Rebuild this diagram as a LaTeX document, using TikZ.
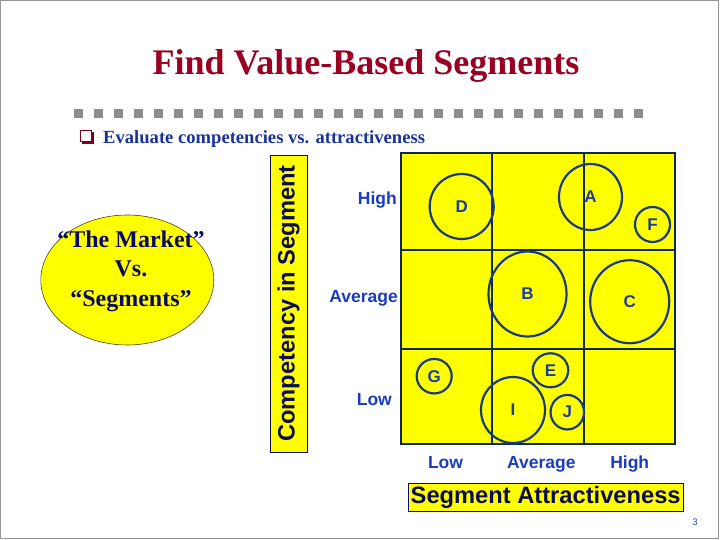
\documentclass[tikz,border=0pt]{standalone}
\usepackage{fontspec}
\setmainfont{Liberation Serif}
\setsansfont{Liberation Sans}
\usetikzlibrary{shapes.geometric}
\definecolor{titlered}{RGB}{153,0,34}
\definecolor{bulletred}{RGB}{128,0,32}
\definecolor{subblue}{RGB}{26,51,153}
\definecolor{sqgrey}{RGB}{140,140,140}
\definecolor{framegrey}{RGB}{150,150,150}
\definecolor{hiyellow}{RGB}{255,255,0}
\definecolor{gridnavy}{RGB}{14,40,84}
\definecolor{circnavy}{RGB}{28,58,128}
\definecolor{letterblue}{RGB}{30,60,160}
\definecolor{axisblue}{RGB}{26,60,190}
\definecolor{boxnavy}{RGB}{12,12,80}
\definecolor{marketnavy}{RGB}{10,10,100}
\definecolor{olive}{RGB}{70,70,20}
\definecolor{pageblue}{RGB}{40,70,140}
\begin{document}
\begin{tikzpicture}[x=1pt,y=-1pt,
  seg/.style={draw=circnavy, line width=2.2pt, ellipse, inner sep=0pt,
    text=letterblue, font=\sffamily\bfseries\fontsize{17}{17}\selectfont},
  axislab/.style={text=axisblue, inner sep=0pt, font=\sffamily\bfseries\fontsize{17.5}{17.5}\selectfont},
  gridline/.style={draw=gridnavy, line width=2pt},
  ybox/.style={fill=hiyellow, draw=boxnavy, line width=0.8pt, inner sep=0pt,
    text=boxnavy, font=\sffamily\bfseries\fontsize{23.7}{23.7}\selectfont}
]
\useasboundingbox (0,0) rectangle (720,540);
% frame
\draw[framegrey, line width=1pt] (0.5,0.5) rectangle (718,538.5);
% title
\node[anchor=base, text=titlered, inner sep=0pt, font=\rmfamily\bfseries\fontsize{36}{40}\selectfont] (title) at (366,75) {Find Value-Based Segments};
% dotted separator
\foreach \i in {0,...,28} \fill[sqgrey] (74+20*\i,109) rectangle ++(9,9);
% bullet
\fill[bulletred] (82,132) rectangle (94,144);
\draw[bulletred, fill=white, line width=1.2pt] (80.6,130.6) rectangle (91.4,141.4);
\node[anchor=base west, text=subblue, inner sep=0pt, font=\rmfamily\bfseries\fontsize{18.6}{20}\selectfont] (sub) at (103,144) {Evaluate competencies vs. attractiveness};
% market ellipse
\node[ellipse, fill=hiyellow, draw=olive, line width=0.6pt, minimum width=173pt, minimum height=130pt, inner sep=0pt] (market) at (127.3,280) {};
\node[align=center, text=marketnavy, inner sep=0pt, font=\rmfamily\bfseries\fontsize{24}{29.5}\selectfont] (markettxt) at (131,271) {“The Market”\\Vs.\\“Segments”};
% competency label
\node[ybox, rotate=90, minimum width=297pt, minimum height=37pt] (comp) at (288.5,303.5) {Competency in Segment};
% grid
\node[fill=hiyellow, draw=gridnavy, line width=2pt, minimum width=274pt, minimum height=291pt, inner sep=0pt] (grid) at (538,298.5) {};
\coordinate (v1t) at (492,153); \coordinate (v1b) at (492,444);
\coordinate (v2t) at (584,153); \coordinate (v2b) at (584,444);
\coordinate (h1l) at (401,250); \coordinate (h1r) at (675,250);
\coordinate (h2l) at (401,348.5); \coordinate (h2r) at (675,348.5);
\draw[gridline] (v1t) -- (v1b);
\draw[gridline] (v2t) -- (v2b);
\draw[gridline] (h1l) -- (h1r);
\draw[gridline] (h2l) -- (h2r);
% segments
\node[seg, minimum width=64pt, minimum height=65pt] (D) at (461.7,206.5) {D};
\node[seg, minimum width=63pt, minimum height=66pt] (A) at (590.5,197) {A};
\node[seg, minimum width=35pt, minimum height=35pt] (F) at (652.5,224.5) {F};
\node[seg, minimum width=78pt, minimum height=85pt] (B) at (527.5,294) {B};
\node[seg, minimum width=79pt, minimum height=83pt] (C) at (629.7,301.7) {C};
\node[seg, minimum width=35pt, minimum height=34.5pt] (G) at (434.2,376.2) {G};
\node[seg, minimum width=35.5pt, minimum height=34pt] (E) at (550.5,370.3) {E};
\node[seg, minimum width=64pt, minimum height=66pt] (I) at (513,410) {I};
\node[seg, minimum width=33.5pt, minimum height=34.5pt] (J) at (567.3,412.2) {J};
% axis labels
\node[axislab, anchor=base east] (rhigh) at (397,205) {High};
\node[axislab, anchor=base east] (ravg) at (398,302.7) {Average};
\node[axislab, anchor=base east] (rlow) at (392,405.7) {Low};
\node[axislab, anchor=base] (clow) at (445.5,468.3) {Low};
\node[axislab, anchor=base] (cavg) at (541.3,468.3) {Average};
\node[axislab, anchor=base] (chigh) at (629.7,468.3) {High};
% attractiveness label
\node[ybox, minimum width=275pt, minimum height=28pt] (attr) at (545.7,497) {Segment Attractiveness};
% page number
\node[text=pageblue, inner sep=0pt, font=\sffamily\fontsize{9.5}{10}\selectfont] (page) at (695,522.7) {3};
\end{tikzpicture}
\end{document}
